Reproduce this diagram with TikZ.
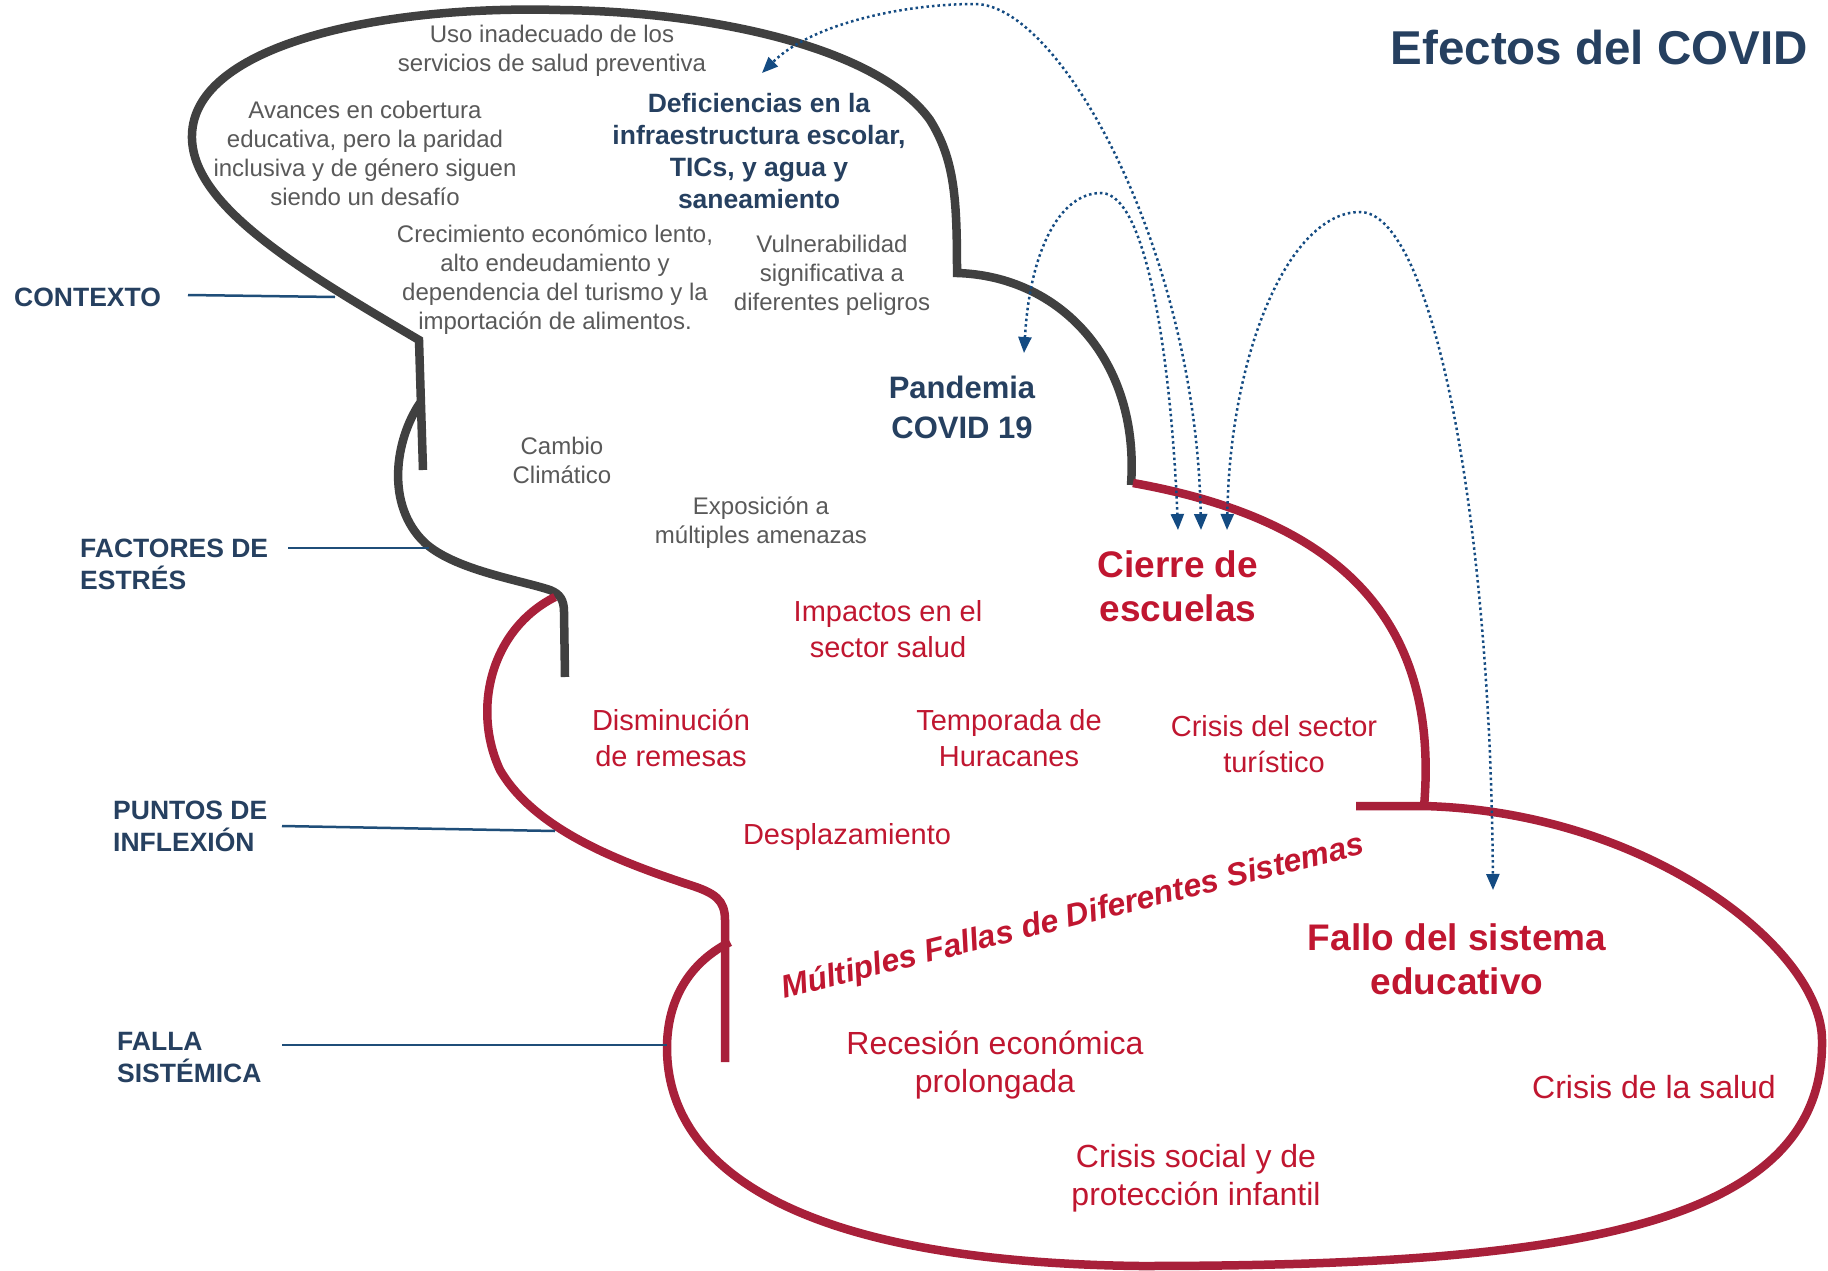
\documentclass[tikz,border=0pt]{standalone}
\usepackage{fontspec}
\setmainfont{Liberation Sans}
\usetikzlibrary{arrows.meta}
\definecolor{graytext}{RGB}{89,89,89}
\definecolor{linegray}{RGB}{64,64,64}
\definecolor{linered}{RGB}{168,32,58}
\definecolor{redtext}{RGB}{192,22,48}
\definecolor{bluetext}{RGB}{38,64,96}
\definecolor{lineblue}{RGB}{31,78,121}
\definecolor{arcblue}{RGB}{20,75,130}
\begin{document}
\begin{tikzpicture}[x=1pt,y=-1pt,
  outgray/.style={draw=linegray,line width=8.5pt},
  outred/.style={draw=linered,line width=8.5pt},
  lead/.style={draw=lineblue,line width=2.5pt},
  arc/.style={draw=arcblue,line width=2.5pt,dash pattern=on 2.5pt off 3pt,
    {Triangle[width=13pt,length=16pt]}-{Triangle[width=13pt,length=16pt]}},
  lbl/.style={font=\bfseries\fontsize{26.5}{32}\selectfont,text=bluetext,align=left,anchor=west,inner sep=0pt},
  gtxt/.style={font=\fontsize{24}{29}\selectfont,text=graytext,align=center,inner sep=0pt},
  btxt/.style={font=\bfseries\fontsize{26.5}{32}\selectfont,text=bluetext,align=center,inner sep=0pt},
  bbig/.style={font=\bfseries\fontsize{31}{40}\selectfont,text=bluetext,align=center,inner sep=0pt},
  rtxt/.style={font=\fontsize{29}{36}\selectfont,text=redtext,align=center,inner sep=0pt},
  rtxtb/.style={font=\fontsize{32}{38}\selectfont,text=redtext,align=center,inner sep=0pt},
  rbig/.style={font=\bfseries\fontsize{37}{44}\selectfont,text=redtext,align=center,inner sep=0pt}]
\useasboundingbox (0,0) rectangle (1828,1271);
\fill[white] (0,0) rectangle (1828,1271);

% ---- outlines ----
\draw[outgray] (423,470) -- (419,340)
  .. controls (300,270) and (190,205) .. (192,135)
  .. controls (194,45) and (380,5) .. (560,10)
  .. controls (720,12) and (880,50) .. (930,120)
  .. controls (955,160) and (957,200) .. (957,273)
  .. controls (1060,276) and (1140,360) .. (1131,485);
\draw[outgray] (420,403) .. controls (395,440) and (385,505) .. (425,543)
  .. controls (455,570) and (520,580) .. (550,590)
  .. controls (560,594) and (564,600) .. (564,612) -- (565,677);
\draw[outred] (555,597) .. controls (490,630) and (472,710) .. (500,770)
  .. controls (535,830) and (620,862) .. (690,885)
  .. controls (715,893) and (725,900) .. (725,920) -- (725,1062);
\draw[outred] (1133,483) .. controls (1340,520) and (1440,620) .. (1424,807);
\draw[outred] (730,942) .. controls (685,965) and (667,1005) .. (667,1048)
  .. controls (667,1170) and (800,1262) .. (1140,1266)
  .. controls (1560,1266) and (1825,1230) .. (1822,1040)
  .. controls (1822,950) and (1650,812) .. (1424,806) -- (1356,806);

% ---- level labels ----
\node[lbl] (ctx) at (14,297) {CONTEXTO};
\node[lbl] (fac) at (80,564) {FACTORES DE\\ESTRÉS};
\node[lbl] (pun) at (113,826) {PUNTOS DE\\INFLEXIÓN};
\node[lbl] (fal) at (117,1058) {FALLA\\SISTÉMICA};
\coordinate (ctxA) at (188,295); \coordinate (ctxB) at (335,297);
\coordinate (facA) at (288,548); \coordinate (facB) at (429,548);
\coordinate (punA) at (282,826); \coordinate (punB) at (555,831);
\coordinate (falA) at (282,1045); \coordinate (falB) at (667,1045);
\draw[lead] (ctxA) -- (ctxB);
\draw[lead] (facA) -- (facB);
\draw[lead] (punA) -- (punB);
\draw[lead] (falA) -- (falB);

% ---- title ----
\node[font=\bfseries\fontsize{47.5}{57}\selectfont,text=bluetext,anchor=east,inner sep=0pt] (title) at (1808,48) {Efectos del COVID};

% ---- context texts ----
\node[gtxt] (uso) at (552,51) {Uso inadecuado de los\\servicios de salud preventiva};
\node[gtxt] (ava) at (365,153) {Avances en cobertura\\educativa, pero la paridad\\inclusiva y de género siguen\\siendo un desafío};
\node[gtxt] (cre) at (555,280) {Crecimiento económico lento,\\alto endeudamiento y\\dependencia del turismo y la\\importación de alimentos.};
\node[gtxt] (vul) at (832,275) {Vulnerabilidad\\significativa a\\diferentes peligros};
\node[btxt] (def) at (759,151) {Deficiencias en la\\infraestructura escolar,\\TICs, y agua y\\saneamiento};

% ---- stress texts ----
\node[gtxt] (cam) at (562,460) {Cambio\\Climático};
\node[gtxt] (exp) at (761,523) {Exposición a\\múltiples amenazas};
\node[bbig] (pan) at (962,407) {Pandemia\\COVID 19};

% ---- tipping points ----
\node[rbig] (cie) at (1178,586) {Cierre de\\escuelas};
\node[rtxt] (imp) at (888,629) {Impactos en el\\sector salud};
\node[rtxt] (dis) at (671,738) {Disminución\\de remesas};
\node[rtxt] (tem) at (1009,738) {Temporada de\\Huracanes};
\node[rtxt] (tur) at (1274,744) {Crisis del sector\\turístico};
\node[rtxt] (des) at (847,837) {Desplazamiento};

% ---- systemic failure ----
\node[font=\bfseries\itshape\fontsize{32}{38}\selectfont,text=redtext,inner sep=0pt,rotate=14] (mul) at (1073,918) {Múltiples Fallas de Diferentes Sistemas};
\node[rbig] (fed) at (1457,959) {Fallo del sistema\\educativo};
\node[rtxtb] (rec) at (995,1065) {Recesión económica\\prolongada};
\node[rtxtb] (sal) at (1654,1087) {Crisis de la salud};
\node[rtxtb] (soc) at (1196,1178) {Crisis social y de\\protección infantil};

% ---- dotted links ----
\coordinate (tDef) at (762,73);
\coordinate (tPan) at (1024,353);
\coordinate (tC1) at (1178,530);
\coordinate (tC2) at (1201,530);
\coordinate (tC3) at (1227,530);
\coordinate (tFal) at (1493,890);
\coordinate (pkA) at (1101,193);
\coordinate (pkB) at (975,4);
\coordinate (pkC) at (1360,212);
\draw[arc] (tPan) .. controls (1030,250) and (1060,193) .. (pkA)
  .. controls (1150,193) and (1172,380) .. (tC1);
\draw[arc] (tC2) .. controls (1196,250) and (1060,4) .. (pkB)
  .. controls (900,4) and (810,25) .. (tDef);
\draw[arc] (tC3) .. controls (1230,350) and (1290,212) .. (pkC)
  .. controls (1430,212) and (1490,500) .. (tFal);
\end{tikzpicture}
\end{document}
